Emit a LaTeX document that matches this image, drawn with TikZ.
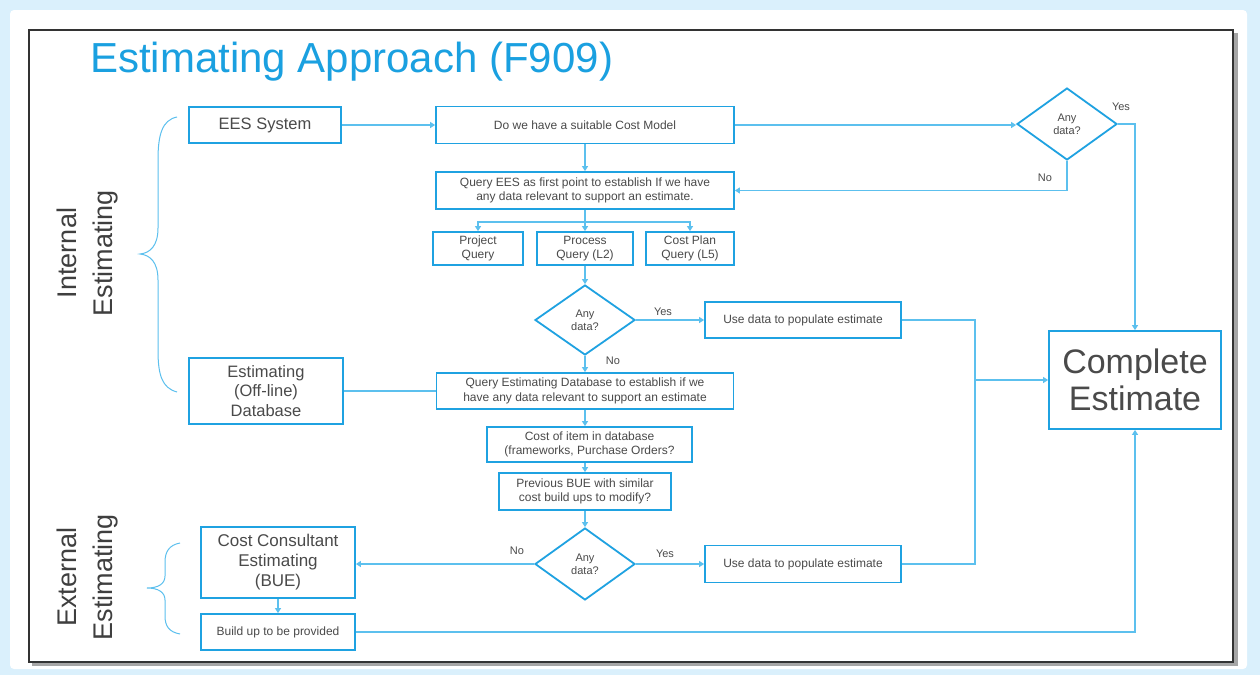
\documentclass[tikz,border=0pt]{standalone}
\usepackage{fontspec}
\setmainfont{Liberation Sans}
\usetikzlibrary{shapes.geometric,arrows.meta}
\definecolor{bgblue}{HTML}{DAF0FC}
\definecolor{boxblue}{HTML}{1FA2E1}
\definecolor{lineblue}{HTML}{5CC0EE}
\definecolor{titleblue}{HTML}{1AA0E0}
\definecolor{txt}{HTML}{4A4A4A}
\tikzset{
  box/.style={draw=boxblue,line width=1.8pt,rectangle,inner sep=1pt,align=center,text=txt},
  dia/.style={draw=boxblue,line width=1.8pt,diamond,inner sep=0pt,align=center,text=txt,
    minimum width=100pt,minimum height=72pt,font=\fontsize{11}{13}\selectfont},
  sm/.style={font=\fontsize{12}{14.5}\selectfont},
  md/.style={font=\fontsize{16.5}{19.5}\selectfont},
  conn/.style={draw=lineblue,line width=1.1pt},
  arr/.style={conn,-{Triangle[width=6pt,length=5pt]}},
  lbl/.style={text=txt,font=\fontsize{11}{13}\selectfont,inner sep=0pt},
  brace/.style={draw=lineblue,line width=1pt},
  side/.style={text=txt!85!black,rotate=90,align=center,font=\fontsize{27}{36}\selectfont,inner sep=0pt}
}
\begin{document}
\begin{tikzpicture}[x=1pt,y=-1pt]
\useasboundingbox (0,0) rectangle (1260,675);
% background
\fill[bgblue] (0,0) rectangle (1260,675);
\fill[white,rounded corners=4pt] (10,10) rectangle (1247,669);
\fill[black!35] (32,33) rectangle (1238,666);
\fill[white] (29,30) rectangle (1233,662);
\draw[black!80,line width=1.8pt] (29,30) rectangle (1233,662);

% title
\node[text=titleblue,font=\fontsize{42}{46}\selectfont,anchor=west,inner sep=0pt] (title) at (90,62) {Estimating Approach (F909)};

% side labels
\node[side] (intl) at (88,253) {Internal\\Estimating};
\node[side] (extl) at (88,577) {External\\Estimating};

% braces
\draw[brace] (177,117) .. controls (162,120) and (158,135) .. (158,160) -- (158,228)
  .. controls (158,246) and (150,253) .. (140,254)
  .. controls (150,255) and (158,262) .. (158,280) -- (158,350)
  .. controls (158,375) and (162,388) .. (177,392);
\draw[brace] (180,543) .. controls (169,545) and (165,552) .. (165,562) -- (165,576)
  .. controls (165,584) and (158,588) .. (147,588)
  .. controls (158,588) and (165,592) .. (165,600) -- (165,616)
  .. controls (165,626) and (169,632) .. (180,634);

% nodes
\node[box,md,minimum width=152pt,minimum height=36pt] (ees) at (265,125) {EES System};
\node[box,sm,minimum width=298pt,minimum height=37pt] (cost) at (585,125) {Do we have a suitable Cost Model};
\node[dia] (d1) at (1067,124) {Any\\data?};
\node[box,sm,minimum width=298pt,minimum height=37pt] (qees) at (585,190.5) {Query EES as first point to establish If we have\\any data relevant to support an estimate.};
\node[box,sm,minimum width=90pt,minimum height=33pt] (pq) at (478,248.5) {Project\\Query};
\node[box,sm,minimum width=96pt,minimum height=33pt] (prq) at (585,248.5) {Process\\Query (L2)};
\node[box,sm,minimum width=88pt,minimum height=33pt] (cpq) at (690,248.5) {Cost Plan\\Query (L5)};
\node[dia,minimum height=70pt] (d2) at (585,320) {Any\\data?};
\node[box,sm,minimum width=196pt,minimum height=36pt] (use1) at (803,320) {Use data to populate estimate};
\node[box,md,minimum width=154pt,minimum height=66pt] (edb) at (266,391) {Estimating\\(Off-line)\\Database};
\node[box,sm,minimum width=297pt,minimum height=36pt] (qedb) at (585,391) {Query Estimating Database to establish if we\\have any data relevant to support an estimate};
\node[box,sm,minimum width=205pt,minimum height=35pt] (coi) at (589.5,444.5) {Cost of item in database\\(frameworks, Purchase Orders?};
\node[box,sm,minimum width=172pt,minimum height=37pt] (pbue) at (585,491.5) {Previous BUE with similar\\cost build ups to modify?};
\node[dia] (d3) at (585,564) {Any\\data?};
\node[box,sm,minimum width=196pt,minimum height=37pt] (use2) at (803,564) {Use data to populate estimate};
\node[box,font=\fontsize{17}{20}\selectfont,minimum width=154pt,minimum height=71pt] (cc) at (278,562.5) {Cost Consultant\\Estimating\\(BUE)};
\node[box,sm,minimum width=154pt,minimum height=36pt] (bu) at (278,632) {Build up to be provided};
\node[box,font=\fontsize{34}{37}\selectfont,minimum width=172pt,minimum height=98pt] (ce) at (1135,380) {Complete\\Estimate};

% connectors
\draw[arr] (ees.east) -- (cost.west);
\draw[arr] (cost.east) -- (cost.east -| d1.west);
\draw[arr] (d1.east) -| (ce.north);
\draw[arr] (d1.south) |- (qees.east);
\draw[arr] (cost.south) -- (qees.north);
\coordinate (br) at (585,222);
\draw[conn] (qees.south) -- (br);
\draw[arr] (br) -| (pq.north);
\draw[arr] (br) -| (cpq.north);
\draw[arr] (br) -- (prq.north);
\draw[arr] (prq.south) -- (d2.north);
\draw[arr] (d2.east) -- (use1.west);
\draw[arr] (d2.south) -- (qedb.north);
\draw[conn] (edb.east) -- (qedb.west);
\draw[arr] (qedb.south) -- (qedb.south |- coi.north);
\draw[arr] (coi.south -| pbue.north) -- (pbue.north);
\draw[arr] (pbue.south) -- (d3.north);
\draw[arr] (d3.east) -- (use2.west);
\draw[arr] (d3.west) -- (d3.west -| cc.east);
\draw[arr] (cc.south) -- (bu.north);
\coordinate (jtop) at (975,320);
\coordinate (jmid) at (975,380);
\coordinate (jbot) at (975,564);
\draw[conn] (use1.east) -- (jtop) -- (jbot) -- (use2.east);
\draw[arr] (jmid) -- (ce.west);
\draw[arr] (bu.east) -| (ce.south);

% labels
\node[lbl] (y1) at (1121,107) {Yes};
\node[lbl] (n1) at (1045,178) {No};
\node[lbl] (y2) at (663,312) {Yes};
\node[lbl] (n2) at (613,361) {No};
\node[lbl] (n3) at (517,551) {No};
\node[lbl] (y3) at (665,554) {Yes};
\end{tikzpicture}
\end{document}
